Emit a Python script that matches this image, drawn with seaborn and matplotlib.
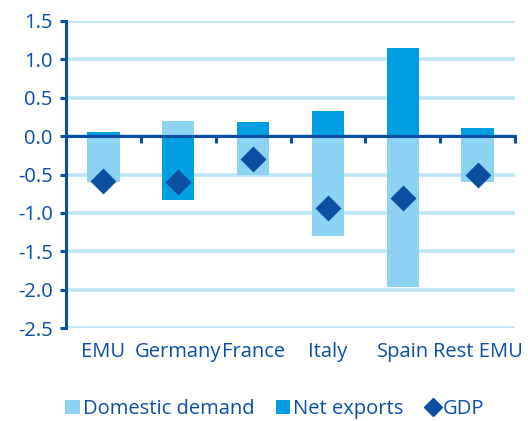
import numpy as np
import pandas as pd
import matplotlib
matplotlib.use("Agg")
import matplotlib.pyplot as plt
from matplotlib.lines import Line2D
from matplotlib.patches import Patch
import seaborn as sns

categories = ["EMU", "Germany", "France", "Italy", "Spain", "Rest EMU"]
domestic_demand = [-0.60, 0.20, -0.50, -1.30, -1.97, -0.60]
net_exports = [0.05, -0.83, 0.18, 0.33, 1.15, 0.10]
gdp = [-0.59, -0.60, -0.30, -0.93, -0.80, -0.50]
y_ticks = [1.5, 1.0, 0.5, 0.0, -0.5, -1.0, -1.5, -2.0, -2.5]

C_DD = "#8DD3F3"
C_NX = "#009EE2"
C_GDP = "#0B4FA2"
C_AX = "#0B4FA2"
C_GRID = "#BDE7F8"

sns.set_theme(style="white")
plt.rcParams["font.family"] = ["Open Sans", "DejaVu Sans"]

long = pd.DataFrame({
    "cat": categories * 2,
    "comp": ["Domestic demand"] * 6 + ["Net exports"] * 6,
    "val": domestic_demand + net_exports,
})
gdf = pd.DataFrame({"cat": categories, "gdp": gdp})

fig = plt.figure(figsize=(5.28, 4.21), dpi=100)
ax = fig.add_axes([66 / 528, 1 - 328 / 421, (515 - 66) / 528, (328 - 21) / 421])

sns.barplot(data=long, x="cat", y="val", hue="comp", dodge=False,
            palette={"Domestic demand": C_DD, "Net exports": C_NX},
            saturation=1, width=0.43, ax=ax, legend=False, zorder=3,
            linewidth=0)
sns.scatterplot(data=gdf, x="cat", y="gdp", marker="D", s=175, color=C_GDP,
                edgecolor=C_GDP, linewidth=0, ax=ax, zorder=5, legend=False)

ax.set_xlim(-0.5, 5.5)
ax.set_ylim(-2.5, 1.5)
ax.set_yticks(y_ticks)
ax.set_yticklabels([f"{v:.1f}" for v in y_ticks])
ax.yaxis.grid(True, color=C_GRID, linewidth=2.6)
ax.xaxis.grid(False)
ax.set_axisbelow(True)
ax.axhline(0, color=C_AX, lw=2.2, zorder=4)
ax.set_xlabel("")
ax.set_ylabel("")

for s in ["top", "right", "bottom"]:
    ax.spines[s].set_visible(False)
ax.spines["left"].set_visible(True)
ax.spines["left"].set_color(C_AX)
ax.spines["left"].set_linewidth(2.2)
ax.spines["left"].set_zorder(6)
ax.tick_params(axis="y", colors=C_AX, labelcolor=C_AX, direction="out",
               length=4.5, width=2.2, labelsize=14.5, pad=5, left=True)
ax.tick_params(axis="x", length=0, labelcolor=C_AX, labelsize=14.5, pad=10)

# zero axis with tick marks between categories
sec = ax.secondary_xaxis(2.5 / 4.0)
sec.set_xticks([0.5, 1.5, 2.5, 3.5, 4.5, 5.5])
sec.set_xticklabels([""] * 6)
sec.xaxis.set_ticks_position("bottom")
sec.spines["top"].set_visible(False)
sec.spines["bottom"].set_visible(True)
sec.spines["bottom"].set_color(C_AX)
sec.spines["bottom"].set_linewidth(2.2)
sec.tick_params(axis="x", direction="out", length=5, width=2.2, color=C_AX,
                bottom=True, top=False)

handles = [
    Patch(facecolor=C_DD, edgecolor="none", label="Domestic demand"),
    Patch(facecolor=C_NX, edgecolor="none", label="Net exports"),
    Line2D([], [], marker="D", color=C_GDP, linestyle="none", markersize=9,
           label="GDP"),
]
leg = fig.legend(handles=handles, loc="center", ncol=3,
                 bbox_to_anchor=(0.5 + 11 / 528, 1 - 409 / 421), frameon=False,
                 fontsize=14.5, handlelength=0.7, handleheight=0.7,
                 handletextpad=0.15, columnspacing=1.1, borderaxespad=0)
for t in leg.get_texts():
    t.set_color(C_AX)

fig.savefig("out.png", dpi=100)
